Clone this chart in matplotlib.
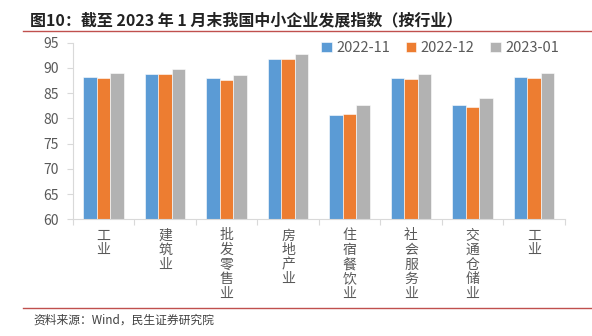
import numpy as np
import matplotlib
matplotlib.use("Agg")
import matplotlib.pyplot as plt
from matplotlib.lines import Line2D

plt.rcParams["font.family"] = ["Noto Sans CJK SC", "DejaVu Sans"]

# industries (last one is shown as 工业 again in the source chart)
categories = ["工业", "建筑业", "批发零售业", "房地产业", "住宿餐饮业", "社会服务业", "交通仓储业", "工业"]
series_names = ["2022-11", "2022-12", "2023-01"]
nov_2022 = [88.3, 88.8, 88.1, 91.8, 80.7, 88.1, 82.6, 88.3]
dec_2022 = [88.1, 88.8, 87.7, 91.8, 80.9, 87.9, 82.3, 88.1]
jan_2023 = [89.0, 89.8, 88.5, 92.8, 82.6, 88.7, 84.0, 89.0]
yticks = [60, 65, 70, 75, 80, 85, 90, 95]

colors = ["#5B9BD5", "#ED7D31", "#B2B2B2"]
grey_txt = "#595959"
axis_col = "#D9D9D9"

fig = plt.figure(figsize=(5.92, 3.36), dpi=100)
ax = fig.add_axes([0.123, 0.347, 0.831, 0.526])

x = np.arange(len(categories))
w = 0.22
for i, (vals, name) in enumerate(zip([nov_2022, dec_2022, jan_2023], series_names)):
    ax.bar(x + (i - 1) * w, vals, width=w, color=colors[i], label=name,
           edgecolor="white", linewidth=0.4, zorder=2)

ax.set_ylim(60, 95)
ax.set_xlim(-0.5, len(categories) - 0.5)
ax.set_yticks(yticks)
ax.tick_params(axis="y", labelsize=10, colors=grey_txt, length=4, color=axis_col, pad=6)

# tick marks between groups, labels stacked vertically
ax.set_xticks(np.arange(len(categories) + 1) - 0.5)
ax.set_xticklabels([])
ax.tick_params(axis="x", length=4, color=axis_col)
for xi, lab in zip(x, categories):
    ax.text(xi, 58.2, "\n".join(lab), ha="center", va="top", fontsize=10,
            color=grey_txt, linespacing=1.05)

for s in ["top", "right"]:
    ax.spines[s].set_visible(False)
for s in ["left", "bottom"]:
    ax.spines[s].set_color(axis_col)
    ax.spines[s].set_linewidth(0.8)

leg = ax.legend(loc="upper right", bbox_to_anchor=(1.0, 1.04), ncol=3, frameon=False,
                fontsize=10.5, handlelength=0.7, handleheight=0.7, handletextpad=0.3,
                columnspacing=1.1, borderaxespad=0)
for t in leg.get_texts():
    t.set_color(grey_txt)

fig.text(0.05, 0.94, "图10：截至 2023 年 1 月末我国中小企业发展指数（按行业）",
         fontsize=11.5, fontweight="bold", color="#222222", va="center", ha="left")
fig.add_artist(Line2D([23 / 592, 1], [1 - 30.7 / 336] * 2, color="#C0504D", linewidth=1.0))
fig.add_artist(Line2D([23 / 592, 1], [1 - 308.3 / 336] * 2, color="#C0504D", linewidth=1.0))
fig.text(33 / 592, 1 - 320 / 336, "资料来源：Wind，民生证券研究院", fontsize=8.5,
         color="#404040", va="center", ha="left")

fig.savefig("out.png", dpi=100)
